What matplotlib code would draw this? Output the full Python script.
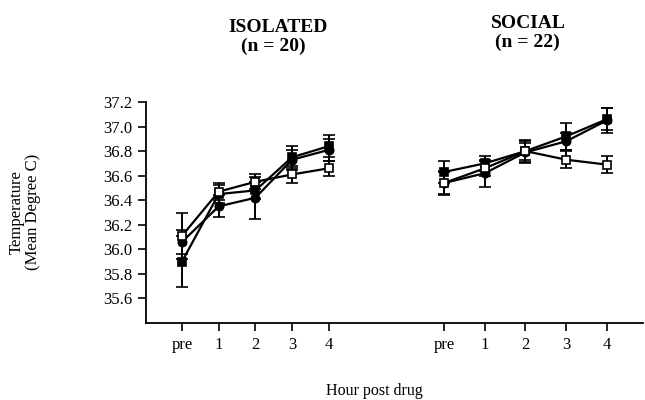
import numpy as np
import matplotlib
matplotlib.use("Agg")
import matplotlib.pyplot as plt

plt.rcParams['font.family'] = ['Liberation Serif', 'DejaVu Serif']

hours = ["pre", "1", "2", "3", "4"]

# Isolated group (n = 20)
iso_fsq = [35.90, 36.45, 36.48, 36.75, 36.84]
iso_fsq_err = [0.21, 0.07, 0.07, 0.09, 0.09]
iso_fci = [36.06, 36.35, 36.42, 36.73, 36.81]
iso_fci_err = [0.10, 0.09, 0.17, 0.08, 0.09]
iso_osq = [36.11, 36.47, 36.55, 36.61, 36.66]
iso_osq_err = [0.19, 0.07, 0.06, 0.07, 0.06]

# Social group (n = 22)
soc_fsq = [36.63, 36.70, 36.80, 36.92, 37.06]
soc_fsq_err = [0.09, 0.06, 0.09, 0.11, 0.09]
soc_fci = [36.54, 36.62, 36.79, 36.88, 37.05]
soc_fci_err = [0.09, 0.11, 0.09, 0.07, 0.10]
soc_osq = [36.54, 36.66, 36.80, 36.73, 36.69]
soc_osq_err = [0.10, 0.06, 0.07, 0.07, 0.07]

yticks = [35.6, 35.8, 36.0, 36.2, 36.4, 36.6, 36.8, 37.0, 37.2]

fig = plt.figure(figsize=(6.45, 4.0), dpi=100)
ax = fig.add_axes([146/645, 77/400, (643-146)/645, (323-102)/400])

iso_x = np.arange(5) * 1.0
soc_x = 7.14 + np.arange(5) * 1.109

def draw(x, y, e, marker, fc, z):
    ax.errorbar(x, y, yerr=e, color='black', marker=marker, markersize=6,
                markerfacecolor=fc, markeredgecolor='black', markeredgewidth=1.2,
                linewidth=1.6, elinewidth=1.4, capsize=4, capthick=1.4, zorder=z)

for xs, data in [(iso_x, (iso_fsq, iso_fsq_err, iso_fci, iso_fci_err, iso_osq, iso_osq_err)),
                 (soc_x, (soc_fsq, soc_fsq_err, soc_fci, soc_fci_err, soc_osq, soc_osq_err))]:
    fsq, fsqe, fci, fcie, osq, osqe = data
    draw(xs, fci, fcie, 'o', 'black', 3)
    draw(xs, fsq, fsqe, 's', 'black', 4)
    draw(xs, osq, osqe, 's', 'white', 5)

ax.set_xlim(-0.98, 12.56)
ax.set_ylim(35.4, 37.2)
ax.set_yticks(yticks)
ax.set_yticklabels([f"{v:.1f}" for v in yticks], fontsize=12)
ax.set_xticks(list(iso_x) + list(soc_x))
ax.set_xticklabels(hours + hours, fontsize=12)
ax.spines['top'].set_visible(False)
ax.spines['right'].set_visible(False)
ax.spines['left'].set_linewidth(1.3)
ax.spines['bottom'].set_linewidth(1.3)
ax.tick_params(direction='out', length=6, width=1.2, pad=4)

tkw = dict(ha='center', va='baseline', fontsize=14, fontweight='bold')
fig.text(278/645, 1 - 32/400, "ISOLATED", **tkw)
fig.text(273/645, 1 - 51/400, "(n = 20)", **tkw)
fig.text(528/645, 1 - 28/400, "SOCIAL", **tkw)
fig.text(527/645, 1 - 47/400, "(n = 22)", **tkw)
fig.text(25/645, 1 - 212/400, "Temperature\n(Mean Degree C)", ha='center', va='center',
         rotation=90, fontsize=12, linespacing=1.0)
fig.text(374/645, 1 - 391/400, "Hour post drug", ha='center', va='center', fontsize=11.5)

fig.savefig("out.png", dpi=100)
